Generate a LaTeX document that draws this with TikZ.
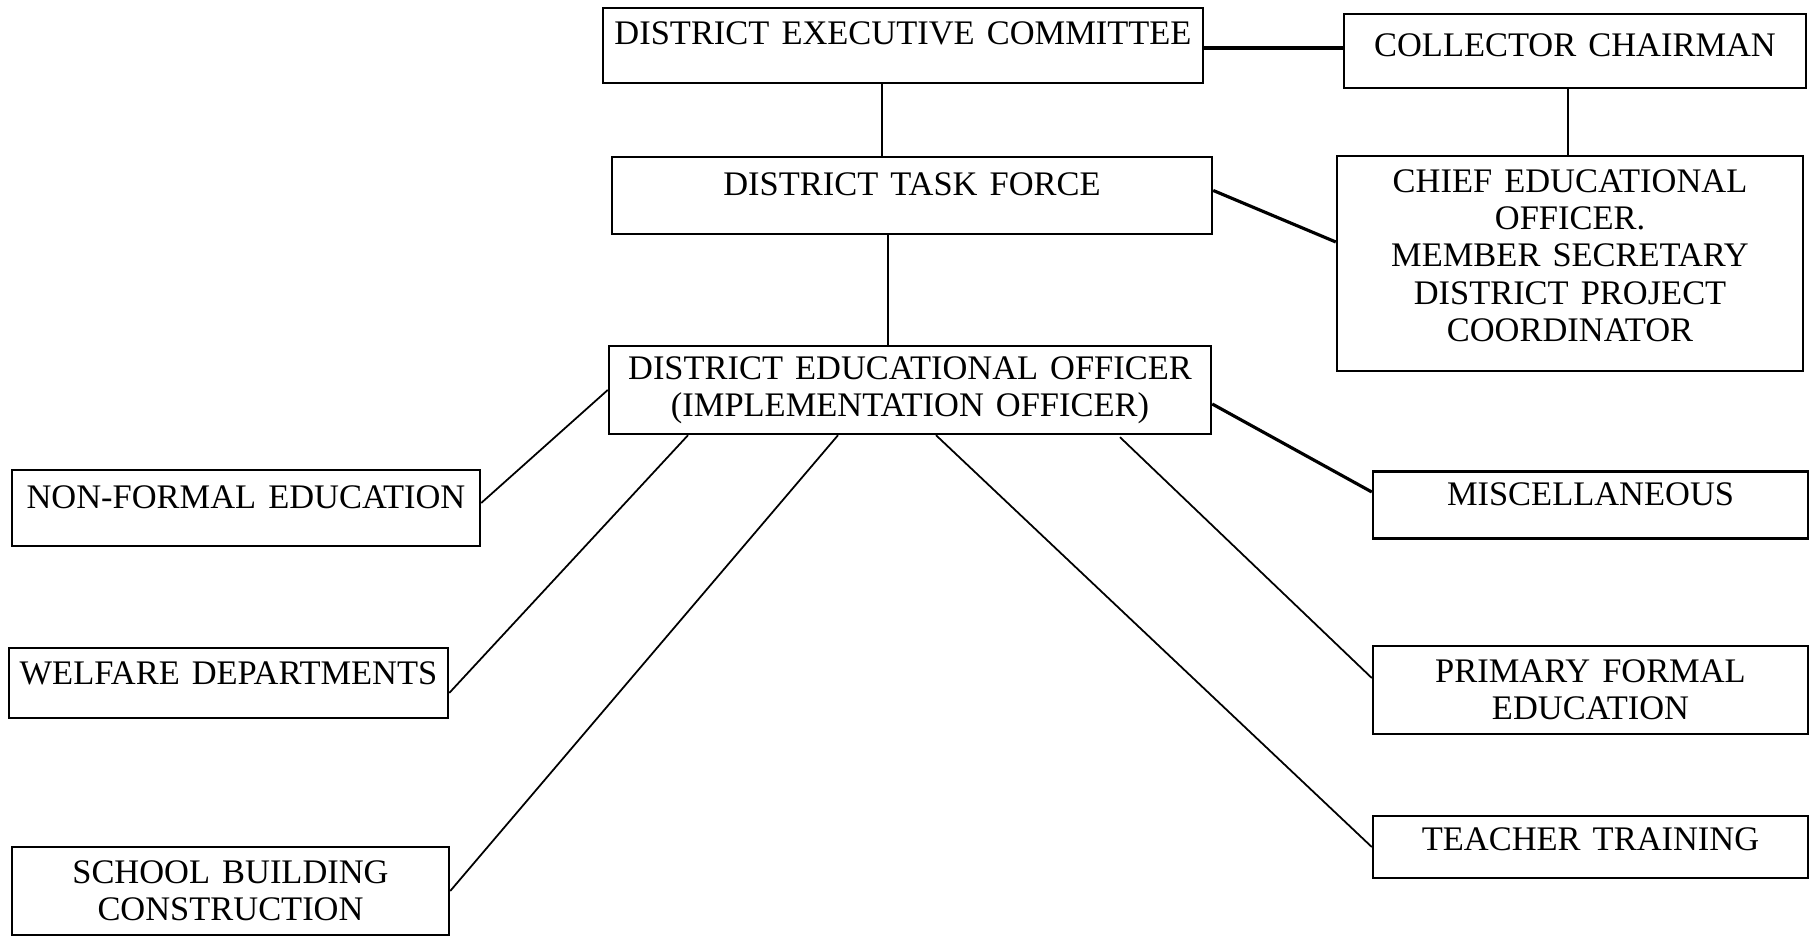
\documentclass[tikz,border=0pt]{standalone}
\usepackage{fontspec}
\setmainfont[WordSpace=1.4]{Liberation Serif}
\begin{document}
\begin{tikzpicture}[
    box/.style={draw, line width=0.7pt, inner sep=0pt, align=center, font=\fontsize{9.8}{10.6}\selectfont},
    lift/.style={text height=2.4mm, text depth=#1},
    link/.style={line width=0.5pt},
    heavy/.style={line width=0.9pt}]
\useasboundingbox (0,0) rectangle (18.10,9.39);

\node[box, lift=2.6mm, minimum width=6cm, minimum height=7.5mm] (dec) at (9.03,8.935) {DISTRICT EXECUTIVE COMMITTEE};
\node[box, lift=1.2mm, minimum width=4.62cm, minimum height=7.4mm] (chair) at (15.75,8.88) {COLLECTOR CHAIRMAN};
\node[box, lift=2.4mm, minimum width=6cm, minimum height=7.7mm] (dtf) at (9.12,7.435) {DISTRICT TASK FORCE};
\node[box, minimum width=4.66cm, minimum height=21.5mm] (ceo) at (15.70,6.755)
    {CHIEF EDUCATIONAL\\ OFFICER.\\ MEMBER SECRETARY\\ DISTRICT PROJECT\\ COORDINATOR\\[-6pt]\mbox{}};
\node[box, minimum width=6.02cm, minimum height=8.8mm] (deo) at (9.10,5.49)
    {DISTRICT EDUCATIONAL OFFICER\\ (IMPLEMENTATION OFFICER)};

\node[box, lift=2.2mm, minimum width=4.68cm, minimum height=7.6mm] (nfe) at (2.46,4.31) {NON-FORMAL EDUCATION};
\node[box, lift=2mm, minimum width=4.39cm, minimum height=7mm] (welfare) at (2.285,2.56) {WELFARE DEPARTMENTS};
\node[box, minimum width=4.37cm, minimum height=8.8mm] (school) at (2.305,0.48) {SCHOOL BUILDING\\ CONSTRUCTION};

\node[box, lift=2.2mm, minimum width=4.35cm, minimum height=6.7mm] (misc) at (15.905,4.34) {MISCELLANEOUS};
\node[box, minimum width=4.35cm, minimum height=8.8mm] (primary) at (15.905,2.49) {PRIMARY FORMAL\\ EDUCATION};
\node[box, lift=1.6mm, minimum width=4.35cm, minimum height=6.2mm] (training) at (15.905,0.92) {TEACHER TRAINING};

\coordinate (c1) at ([xshift=-2.1mm]dec.south);
\coordinate (c2) at ([xshift=-2.4mm]dtf.south);
\coordinate (c3) at ([xshift=-0.7mm]chair.south);
\coordinate (c4) at ([yshift=0.3mm]chair.west);

\draw[link] (c1) -- (c1 |- dtf.north);
\draw[link] (c2) -- (c2 |- deo.north);
\draw[link] (c3) -- (c3 |- ceo.north);
\draw[heavy] (c4) -- (c4 -| dec.east);
\draw[heavy] ([yshift=0.5mm]dtf.east) -- ([yshift=2.15mm]ceo.west);

\draw[link] (deo.west) -- ([yshift=0.5mm]nfe.east);
\draw[link] ([xshift=-2.22cm]deo.south) -- ([yshift=-1mm]welfare.east);
\draw[link] ([xshift=-0.72cm]deo.south) -- (school.east);
\draw[link] ([xshift=0.26cm]deo.south) -- (training.west);
\draw[link] ([xshift=2.1cm,yshift=-0.2mm]deo.south) -- ([yshift=1.2mm]primary.west);
\draw[heavy] ([yshift=-1.4mm]deo.east) -- ([yshift=1.3mm]misc.west);
\end{tikzpicture}
\end{document}
